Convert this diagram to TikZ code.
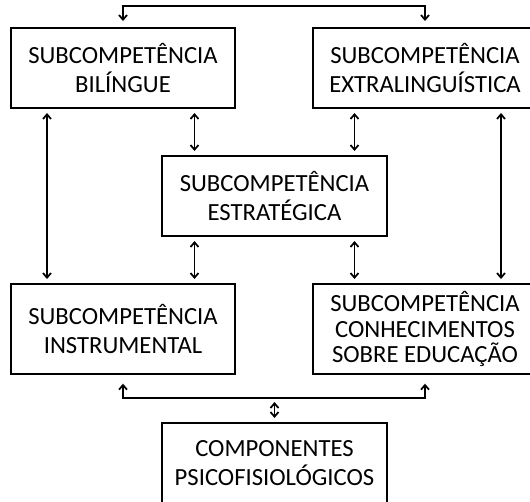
\documentclass[tikz,border=0pt]{standalone}
\usepackage{fontspec}
\setmainfont{Carlito}
\usetikzlibrary{arrows.meta}

\begin{document}
\begin{tikzpicture}[x=0.75pt,y=-0.75pt,line width=1.3pt,>={Straight Barb[length=3.5pt,width=6pt]}]
        %
        % `competence' is used for the boxes.
        % `link' is used for the two-way arrows.
        \tikzstyle{competence} = [draw,line width=1.5pt,align=center,minimum width=168pt,minimum height=60pt,inner sep=0pt,font=\fontsize{18.5}{22}\selectfont]
        \tikzstyle{link} = [<->,shorten >=3pt,shorten <=3pt]
        %
        \clip (0,0) rectangle (530,501);
        % Row 1
        \node[competence] (bil) at (123,68) {SUBCOMPETÊNCIA\\BILÍNGUE};
        \node[competence] (ext) at (425,68) {SUBCOMPETÊNCIA\\EXTRALINGUÍSTICA};
        %
        % Row 2
        \node[competence,minimum width=169pt] (est) at (274.5,196) {SUBCOMPETÊNCIA\\ESTRATÉGICA};
        %
        % Row 3
        \node[competence,minimum height=67.5pt] (ins) at (123,329) {SUBCOMPETÊNCIA\\INSTRUMENTAL};
        \node[competence,minimum height=67.5pt,font=\fontsize{18.5}{19}\selectfont] (con) at (425,329) {SUBCOMPETÊNCIA\\CONHECIMENTOS\\SOBRE EDUCAÇÃO};
        %
        % Row 4
        \node[competence,minimum width=169pt] (comp) at (274.5,463) {COMPONENTES\\PSICOFISIOLÓGICOS};
        %
        % Bracket on top
        \draw[link,shorten >=4.5pt,shorten <=4.5pt] (bil.north) -- ++(0,-21) -| (ext.north);
        %
        % Long arrows
        \draw[link] ([xshift=-57pt]bil.south) -- ([xshift=-57pt]ins.north);
        \draw[link] ([xshift=57pt]ext.south) -- ([xshift=57pt]con.north);
        %
        % Arrows round the middle box
        \draw[link] ([xshift=-60pt]est.north) -- ([xshift=-60pt]est.north |- bil.south);
        \draw[link] ([xshift=60pt]est.north) -- ([xshift=60pt]est.north |- ext.south);
        \draw[link] ([xshift=-60pt]est.south) -- ([xshift=-60pt]est.south |- ins.north);
        \draw[link] ([xshift=60pt]est.south) -- ([xshift=60pt]est.south |- con.north);
        %
        % Bracket at the bottom
        \draw[link,shorten >=6.5pt,shorten <=6.5pt] (ins.south) -- ++(0,23) coordinate (bend) -| (con.south);
        \draw[link] (comp.north) -- (comp.north |- bend);
        %
\end{tikzpicture}
\end{document}
